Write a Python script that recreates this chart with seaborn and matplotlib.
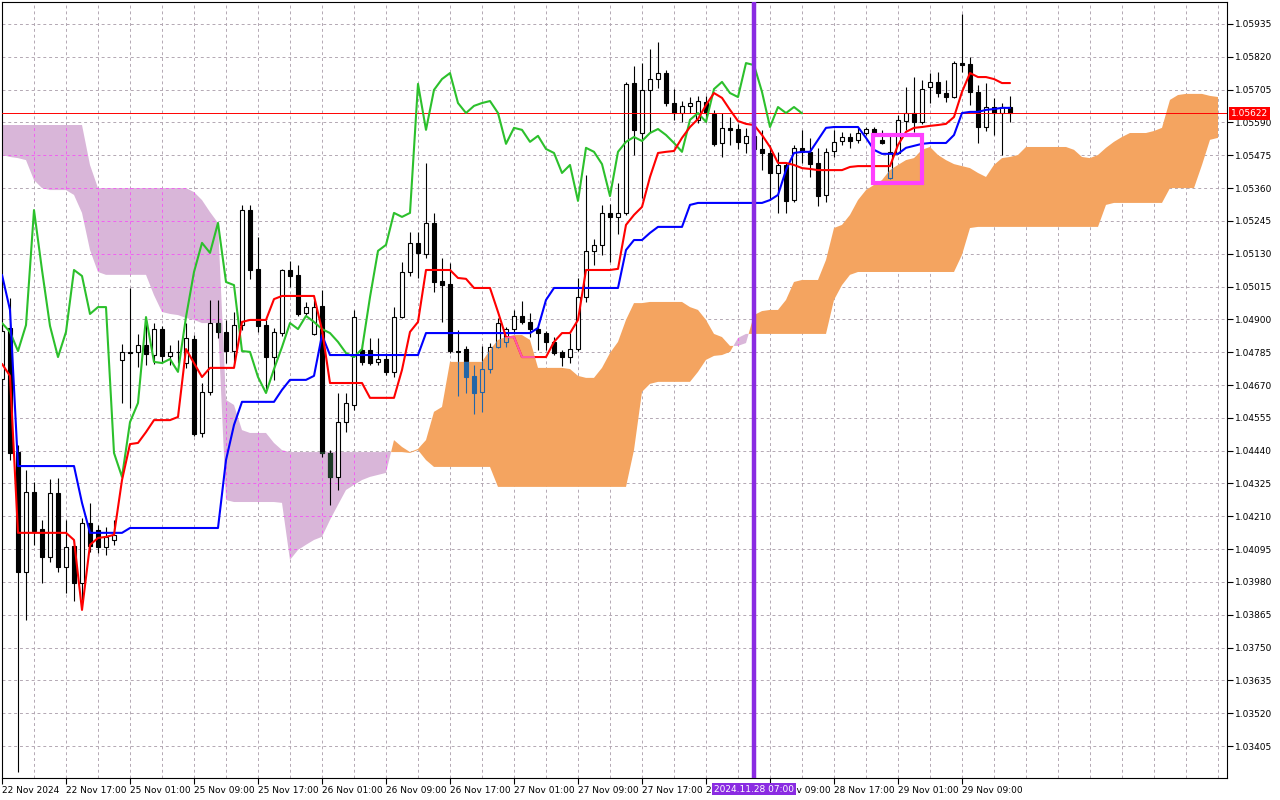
import numpy as np
import pandas as pd
import matplotlib
matplotlib.use("Agg")
import matplotlib.pyplot as plt
import matplotlib.transforms as mtransforms
from matplotlib.patches import Rectangle
from matplotlib.path import Path
import seaborn as sns

# --- EURUSD H1 candles, 22 Nov 2024 09:00 .. 29 Nov 2024 ---
opens = [
    1.04691, 1.04870, 1.04435, 1.04015, 1.04295, 1.04166, 1.04068, 1.04292, 1.04032, 1.04106,
    1.03976, 1.04187, 1.04162, 1.04103, 1.04127, 1.04758, 1.04786, 1.04786, 1.04810, 1.04775,
    1.04866, 1.04772, 1.04786, 1.04747, 1.04831, 1.04502, 1.04646, 1.04887, 1.04856, 1.04789,
    1.04880, 1.05283, 1.05077, 1.04880, 1.04768, 1.04852, 1.05073, 1.05056, 1.04922, 1.04849,
    1.04947, 1.04432, 1.04348, 1.04540, 1.04600, 1.04793, 1.04793, 1.04751, 1.04761, 1.04716,
    1.04908, 1.05066, 1.05168, 1.05129, 1.05238, 1.05035, 1.05024, 1.04789, 1.04796, 1.04702,
    1.04646, 1.04726, 1.04803, 1.04821, 1.04866, 1.04912, 1.04891, 1.04866, 1.04852, 1.04821,
    1.04786, 1.04768, 1.04796, 1.04978, 1.05140, 1.05161, 1.05273, 1.05259, 1.05273, 1.05728,
    1.05553, 1.05704, 1.05742, 1.05763, 1.05658, 1.05623, 1.05648, 1.05599, 1.05662, 1.05620,
    1.05518, 1.05571, 1.05567, 1.05518, 1.05543, 1.05497, 1.05483, 1.05413, 1.05441, 1.05318,
    1.05501, 1.05487, 1.05448, 1.05336, 1.05490, 1.05525, 1.05539, 1.05529, 1.05553, 1.05567,
    1.05529, 1.05395, 1.05483, 1.05595, 1.05623, 1.05592, 1.05714, 1.05732, 1.05693, 1.05679,
    1.05798, 1.05795, 1.05697, 1.05574, 1.05644, 1.05623, 1.05644,
]
highs = [
    1.04880, 1.04975, 1.04460, 1.04372, 1.04330, 1.04197, 1.04341, 1.04344, 1.04197, 1.04127,
    1.04204, 1.04257, 1.04180, 1.04173, 1.04197, 1.04814, 1.05010, 1.04849, 1.04898, 1.04887,
    1.04877, 1.04810, 1.04828, 1.04887, 1.04845, 1.04677, 1.04968, 1.04968, 1.04898, 1.04926,
    1.05301, 1.05301, 1.05189, 1.04898, 1.04870, 1.05077, 1.05105, 1.05091, 1.04961, 1.04968,
    1.05003, 1.04442, 1.04642, 1.04642, 1.04933, 1.04814, 1.04835, 1.04835, 1.04782, 1.04943,
    1.05101, 1.05206, 1.05206, 1.05448, 1.05273, 1.05115, 1.05098, 1.04863, 1.04807, 1.04740,
    1.04807, 1.04817, 1.04905, 1.04873, 1.04933, 1.04964, 1.04922, 1.04873, 1.04859, 1.04838,
    1.04793, 1.04852, 1.05045, 1.05406, 1.05182, 1.05301, 1.05304, 1.05378, 1.05732, 1.05788,
    1.05798, 1.05847, 1.05872, 1.05774, 1.05707, 1.05665, 1.05679, 1.05683, 1.05683, 1.05634,
    1.05623, 1.05609, 1.05585, 1.05571, 1.05571, 1.05564, 1.05511, 1.05487, 1.05448, 1.05511,
    1.05564, 1.05536, 1.05501, 1.05501, 1.05564, 1.05557, 1.05553, 1.05571, 1.05574, 1.05574,
    1.05564, 1.05546, 1.05616, 1.05714, 1.05749, 1.05739, 1.05763, 1.05767, 1.05739, 1.05805,
    1.05970, 1.05819, 1.05721, 1.05728, 1.05676, 1.05658, 1.05683,
]
lows = [
    1.04670, 1.04407, 1.03314, 1.03847, 1.04110, 1.03976, 1.04050, 1.04015, 1.03941, 1.03913,
    1.03917, 1.04085, 1.04082, 1.04075, 1.04110, 1.04607, 1.04590, 1.04733, 1.04740, 1.04744,
    1.04747, 1.04740, 1.04747, 1.04730, 1.04491, 1.04488, 1.04635, 1.04835, 1.04747, 1.04747,
    1.04863, 1.05042, 1.04856, 1.04656, 1.04688, 1.04842, 1.05013, 1.04912, 1.04915, 1.04845,
    1.04418, 1.04250, 1.04302, 1.04505, 1.04583, 1.04740, 1.04740, 1.04740, 1.04705, 1.04698,
    1.04905, 1.05052, 1.05045, 1.05115, 1.04996, 1.04891, 1.04782, 1.04632, 1.04642, 1.04568,
    1.04576, 1.04712, 1.04800, 1.04803, 1.04852, 1.04884, 1.04838, 1.04793, 1.04793, 1.04775,
    1.04737, 1.04747, 1.04789, 1.04961, 1.05091, 1.05126, 1.05101, 1.05199, 1.05266, 1.05476,
    1.05325, 1.05557, 1.05711, 1.05648, 1.05599, 1.05592, 1.05623, 1.05588, 1.05592, 1.05508,
    1.05469, 1.05511, 1.05497, 1.05483, 1.05476, 1.05423, 1.05318, 1.05273, 1.05273, 1.05311,
    1.05448, 1.05399, 1.05297, 1.05311, 1.05469, 1.05511, 1.05501, 1.05518, 1.05546, 1.05539,
    1.05515, 1.05392, 1.05480, 1.05564, 1.05557, 1.05585, 1.05658, 1.05679, 1.05662, 1.05676,
    1.05767, 1.05651, 1.05518, 1.05560, 1.05546, 1.05476, 1.05592,
]
closes = [
    1.04859, 1.04432, 1.04015, 1.04295, 1.04159, 1.04068, 1.04292, 1.04032, 1.04103, 1.03976,
    1.04187, 1.04106, 1.04103, 1.04138, 1.04145, 1.04786, 1.04782, 1.04810, 1.04779, 1.04866,
    1.04772, 1.04786, 1.04784, 1.04835, 1.04498, 1.04646, 1.04887, 1.04856, 1.04789, 1.04880,
    1.05283, 1.05073, 1.04877, 1.04768, 1.04856, 1.05073, 1.05052, 1.04919, 1.04943, 1.04943,
    1.04432, 1.04348, 1.04540, 1.04607, 1.04908, 1.04751, 1.04747, 1.04761, 1.04716, 1.04908,
    1.05066, 1.05168, 1.05133, 1.05238, 1.05031, 1.05020, 1.04789, 1.04786, 1.04698, 1.04642,
    1.04726, 1.04803, 1.04887, 1.04866, 1.04912, 1.04891, 1.04866, 1.04852, 1.04821, 1.04782,
    1.04768, 1.04796, 1.04978, 1.05140, 1.05161, 1.05273, 1.05259, 1.05273, 1.05725, 1.05564,
    1.05704, 1.05742, 1.05763, 1.05658, 1.05623, 1.05648, 1.05658, 1.05665, 1.05623, 1.05515,
    1.05571, 1.05564, 1.05522, 1.05543, 1.05497, 1.05483, 1.05413, 1.05441, 1.05315, 1.05501,
    1.05487, 1.05444, 1.05332, 1.05487, 1.05522, 1.05539, 1.05525, 1.05553, 1.05567, 1.05546,
    1.05518, 1.05487, 1.05599, 1.05623, 1.05592, 1.05707, 1.05732, 1.05693, 1.05679, 1.05798,
    1.05791, 1.05697, 1.05574, 1.05644, 1.05623, 1.05644, 1.05622,
]

# --- Ichimoku lines ---
tenkan = [
    1.04744, 1.04702, 1.04152, 1.04152, 1.04152, 1.04152, 1.04152, 1.04152, 1.04152, 1.04127,
    1.03882, 1.04110, 1.04134, 1.04138, 1.04145, 1.04337, 1.04463, 1.04467, 1.04505, 1.04547,
    1.04547, 1.04547, 1.04558, 1.04796, 1.04747, 1.04698, 1.04730, 1.04730, 1.04730, 1.04730,
    1.04891, 1.04898, 1.04898, 1.04898, 1.04971, 1.04982, 1.04982, 1.04982, 1.04982, 1.04982,
    1.04863, 1.04677, 1.04677, 1.04677, 1.04677, 1.04677, 1.04625, 1.04625, 1.04625, 1.04625,
    1.04723, 1.04856, 1.04891, 1.05073, 1.05073, 1.05073, 1.05073, 1.05045, 1.05042, 1.05010,
    1.05010, 1.05010, 1.04926, 1.04838, 1.04838, 1.04768, 1.04768, 1.04768, 1.04768, 1.04821,
    1.04852, 1.04852, 1.04898, 1.05073, 1.05073, 1.05073, 1.05073, 1.05077, 1.05231, 1.05266,
    1.05294, 1.05399, 1.05483, 1.05487, 1.05490, 1.05536, 1.05574, 1.05602, 1.05651, 1.05693,
    1.05676, 1.05634, 1.05595, 1.05585, 1.05581, 1.05546, 1.05504, 1.05448, 1.05448, 1.05441,
    1.05430, 1.05427, 1.05423, 1.05423, 1.05423, 1.05423, 1.05434, 1.05437, 1.05437, 1.05437,
    1.05437, 1.05437, 1.05511, 1.05557, 1.05571, 1.05574, 1.05578, 1.05581, 1.05585, 1.05609,
    1.05697, 1.05763, 1.05749, 1.05749, 1.05742, 1.05728, 1.05728,
]
kijun = [
    1.05056, 1.04933, 1.04386, 1.04386, 1.04386, 1.04386, 1.04386, 1.04386, 1.04386, 1.04386,
    1.04257, 1.04152, 1.04152, 1.04152, 1.04152, 1.04152, 1.04169, 1.04169, 1.04169, 1.04169,
    1.04169, 1.04169, 1.04169, 1.04169, 1.04169, 1.04169, 1.04169, 1.04169, 1.04407, 1.04530,
    1.04611, 1.04611, 1.04611, 1.04611, 1.04611, 1.04653, 1.04688, 1.04688, 1.04688, 1.04702,
    1.04845, 1.04775, 1.04775, 1.04775, 1.04775, 1.04775, 1.04775, 1.04775, 1.04775, 1.04775,
    1.04775, 1.04775, 1.04775, 1.04852, 1.04852, 1.04852, 1.04852, 1.04852, 1.04852, 1.04852,
    1.04852, 1.04852, 1.04852, 1.04852, 1.04852, 1.04852, 1.04852, 1.04870, 1.04968, 1.05010,
    1.05010, 1.05010, 1.05010, 1.05010, 1.05010, 1.05010, 1.05010, 1.05010, 1.05143, 1.05178,
    1.05178, 1.05203, 1.05224, 1.05224, 1.05224, 1.05224, 1.05301, 1.05308, 1.05308, 1.05308,
    1.05308, 1.05308, 1.05308, 1.05308, 1.05308, 1.05308, 1.05318, 1.05336, 1.05423, 1.05483,
    1.05487, 1.05487, 1.05529, 1.05571, 1.05574, 1.05574, 1.05574, 1.05574, 1.05536, 1.05494,
    1.05480, 1.05480, 1.05480, 1.05501, 1.05508, 1.05515, 1.05518, 1.05518, 1.05518, 1.05546,
    1.05623, 1.05627, 1.05627, 1.05634, 1.05637, 1.05641, 1.05641,
]
span_a = [
    1.05476, 1.05469, 1.05465, 1.05458, 1.05388, 1.05360, 1.05353, 1.05353, 1.05353, 1.05336,
    1.05273, 1.05143, 1.05066, 1.05056, 1.05056, 1.05056, 1.05056, 1.05056, 1.05056, 1.04985,
    1.04926, 1.04919, 1.04915, 1.04905, 1.04898, 1.04887, 1.04887, 1.04887, 1.04267, 1.04260,
    1.04260, 1.04260, 1.04260, 1.04260, 1.04260, 1.04257, 1.04057, 1.04092, 1.04110, 1.04127,
    1.04138, 1.04197, 1.04250, 1.04302, 1.04320, 1.04337, 1.04348, 1.04355, 1.04362, 1.04477,
    1.04453, 1.04435, 1.04446, 1.04477, 1.04576, 1.04593, 1.04751, 1.04751, 1.04751, 1.04751,
    1.04751, 1.04793, 1.04828, 1.04838, 1.04845, 1.04845, 1.04828, 1.04730, 1.04730, 1.04730,
    1.04730, 1.04726, 1.04702, 1.04695, 1.04695, 1.04730, 1.04782, 1.04821, 1.04898, 1.04957,
    1.04957, 1.04961, 1.04961, 1.04961, 1.04961, 1.04961, 1.04943, 1.04933, 1.04898, 1.04849,
    1.04838, 1.04807, 1.04807, 1.04817, 1.04915, 1.04929, 1.04933, 1.04933, 1.04968, 1.05031,
    1.05038, 1.05038, 1.05038, 1.05108, 1.05220, 1.05231, 1.05266, 1.05318, 1.05353, 1.05371,
    1.05388, 1.05423, 1.05441, 1.05458, 1.05465, 1.05494, 1.05504, 1.05476, 1.05458, 1.05444,
    1.05437, 1.05430, 1.05413, 1.05399, 1.05441, 1.05465, 1.05469, 1.05476, 1.05504, 1.05504,
    1.05504, 1.05504, 1.05504, 1.05504, 1.05494, 1.05469, 1.05465, 1.05476, 1.05501, 1.05522,
    1.05539, 1.05553, 1.05553, 1.05553, 1.05560, 1.05571, 1.05669, 1.05686, 1.05690, 1.05690,
    1.05690, 1.05683, 1.05679,
]
span_b = [
    1.05581, 1.05581, 1.05581, 1.05581, 1.05581, 1.05581, 1.05581, 1.05581, 1.05581, 1.05581,
    1.05581, 1.05441, 1.05360, 1.05360, 1.05360, 1.05360, 1.05360, 1.05360, 1.05360, 1.05360,
    1.05360, 1.05360, 1.05360, 1.05360, 1.05346, 1.05318, 1.05276, 1.05238, 1.04618, 1.04600,
    1.04512, 1.04502, 1.04502, 1.04502, 1.04467, 1.04442, 1.04435, 1.04435, 1.04435, 1.04435,
    1.04435, 1.04435, 1.04435, 1.04435, 1.04435, 1.04435, 1.04435, 1.04435, 1.04435, 1.04435,
    1.04435, 1.04432, 1.04442, 1.04407, 1.04383, 1.04383, 1.04383, 1.04383, 1.04383, 1.04383,
    1.04383, 1.04383, 1.04313, 1.04313, 1.04313, 1.04313, 1.04313, 1.04313, 1.04313, 1.04313,
    1.04313, 1.04313, 1.04313, 1.04313, 1.04313, 1.04313, 1.04313, 1.04313, 1.04313, 1.04442,
    1.04646, 1.04674, 1.04681, 1.04681, 1.04681, 1.04681, 1.04681, 1.04716, 1.04758, 1.04772,
    1.04775, 1.04786, 1.04835, 1.04849, 1.04849, 1.04849, 1.04849, 1.04849, 1.04849, 1.04849,
    1.04849, 1.04849, 1.04849, 1.04849, 1.04968, 1.05020, 1.05056, 1.05066, 1.05066, 1.05066,
    1.05066, 1.05066, 1.05066, 1.05066, 1.05066, 1.05066, 1.05066, 1.05066, 1.05066, 1.05066,
    1.05126, 1.05220, 1.05224, 1.05224, 1.05224, 1.05224, 1.05224, 1.05224, 1.05224, 1.05224,
    1.05224, 1.05224, 1.05224, 1.05224, 1.05224, 1.05224, 1.05224, 1.05224, 1.05301, 1.05308,
    1.05308, 1.05308, 1.05308, 1.05308, 1.05308, 1.05308, 1.05360, 1.05360, 1.05360, 1.05360,
    1.05441, 1.05529, 1.05536,
]

price_ticks = [
    1.05935, 1.05820, 1.05705, 1.05590, 1.05475, 1.05360, 1.05245, 1.05130, 1.05015, 1.04900,
    1.04785, 1.04670, 1.04555, 1.04440, 1.04325, 1.04210, 1.04095, 1.03980, 1.03865, 1.03750,
    1.03635, 1.03520, 1.03405,
]
time_tick_bars = [0, 8, 16, 24, 32, 40, 48, 56, 64, 72, 80, 88, 96, 104, 112, 120]
time_tick_labels = [
    "22 Nov 2024", "22 Nov 17:00", "25 Nov 01:00", "25 Nov 09:00", "25 Nov 17:00",
    "26 Nov 01:00", "26 Nov 09:00", "26 Nov 17:00", "27 Nov 01:00", "27 Nov 09:00",
    "27 Nov 17:00", "28 Nov 01:00", "28 Nov 09:00", "28 Nov 17:00", "29 Nov 01:00",
    "29 Nov 09:00",
]
marker_bar = 94
marker_label = "2024.11.28 07:00"
box_bars = [108.9, 115.0]
box_prices = [1.05378, 1.05546]
CHIKOU_SHIFT = 26

ORANGE = "#f4a460"
LAVENDER = "#d9b6d9"
GRID = "#b3a8b3"
IN_CLOUD = "#2466a8"

sns.set_style("white")
plt.rcParams["font.family"] = ["DejaVu Sans"]

o = np.array(opens)
h = np.array(highs)
l = np.array(lows)
c = np.array(closes)
a = np.array(span_a)
b = np.array(span_b)
bars = np.arange(len(c))
cloud_bars = np.arange(len(a))

fig = plt.figure(figsize=(12.8, 8), dpi=100)
ax = fig.add_axes([2 / 1280, 22 / 800, 1225 / 1280, 776 / 800])
XLIM = (0, 153.125)
YLIM = (1.03293, 1.06012)
ax.set_xlim(*XLIM)
ax.set_ylim(*YLIM)

dash = (0, (3, 3))
grid_cols = np.arange(4, 154, 4)
for v in price_ticks:
    ax.axhline(v, color=GRID, lw=0.7, ls=dash, zorder=0)
for xb in grid_cols:
    ax.axvline(xb, color=GRID, lw=0.7, ls=dash, zorder=0)

# bearish kumo (span B above span A)
bear = ax.fill_between(cloud_bars, a, b, where=a < b, interpolate=True,
                       color=LAVENDER, lw=0, zorder=1)
bear_clip = Path.make_compound_path(*bear.get_paths())
for v in price_ticks:
    ln = ax.axhline(v, color="#f060f0", lw=0.7, ls=dash, zorder=1.2)
    ln.set_clip_path(bear_clip, ax.transData)
for xb in grid_cols:
    ln = ax.axvline(xb, color="#f060f0", lw=0.7, ls=dash, zorder=1.2)
    ln.set_clip_path(bear_clip, ax.transData)

# candles
up = c >= o
body_low = np.minimum(o, c)
body_top = np.maximum(o, c)
body_h = np.maximum(body_top - body_low, 0.00003)
ax.vlines(bars, body_top, h, color="black", lw=0.8, zorder=2)
ax.vlines(bars, l, body_low, color="black", lw=0.8, zorder=2)
ax.bar(bars, body_h, bottom=body_low, width=0.62,
       color=np.where(up, "white", "black"), edgecolor="black", linewidth=0.8, zorder=3)
dark = ax.bar(bars[~up], body_h[~up], bottom=body_low[~up], width=0.62,
              color="#1d3b27", edgecolor="#1d3b27", linewidth=0.8, zorder=3.5)
for p in dark:
    p.set_clip_path(bear_clip, ax.transData)

# bullish kumo (span A above span B), candles inside it show through in blue
bull = ax.fill_between(cloud_bars, a, b, where=a >= b, interpolate=True,
                       color=ORANGE, lw=0, zorder=4)
bull_clip = Path.make_compound_path(*bull.get_paths())
for lo_, hi_ in ((body_top, h), (l, body_low)):
    w = ax.vlines(bars, lo_, hi_, color=IN_CLOUD, lw=0.8, zorder=5)
    w.set_clip_path(bull_clip, ax.transData)
blue = ax.bar(bars, body_h, bottom=body_low, width=0.62,
              color=np.where(up, "none", IN_CLOUD), edgecolor=IN_CLOUD, linewidth=0.8, zorder=5.5)
for p in blue:
    p.set_clip_path(bull_clip, ax.transData)

ax.axhline(c[-1], color="#ff0000", lw=0.7, zorder=6)

# tenkan / kijun / chikou
ind = pd.DataFrame({"bar": bars, "tenkan": tenkan, "kijun": kijun})
chik = pd.DataFrame({"bar": bars[:-CHIKOU_SHIFT], "chikou": c[CHIKOU_SHIFT:]})
sns.lineplot(data=chik, x="bar", y="chikou", color="#2cc02c", linewidth=1.5,
             estimator=None, ax=ax, zorder=7)
sns.lineplot(data=ind, x="bar", y="kijun", color="#0000ff", linewidth=1.5,
             estimator=None, ax=ax, zorder=7)
sns.lineplot(data=ind, x="bar", y="tenkan", color="#ff0000", linewidth=1.5,
             estimator=None, ax=ax, zorder=7)
pink = ax.plot(bars, tenkan, color="#ff5aa5", lw=1.5, zorder=7.5)[0]
pink.set_clip_path(bull_clip, ax.transData)

ax.axvline(marker_bar, color="#8a2be2", lw=3.2, zorder=9)
ax.add_patch(Rectangle((box_bars[0], box_prices[0]), box_bars[1] - box_bars[0],
                       box_prices[1] - box_prices[0], fill=False,
                       edgecolor="#ff40ff", lw=3, zorder=9))

ax.set_xlabel("")
ax.set_ylabel("")
ax.set_xlim(*XLIM)
ax.set_ylim(*YLIM)

ax.yaxis.tick_right()
ax.set_yticks(price_ticks)
ax.set_yticklabels([f"{v:.5f}" for v in price_ticks])
ax.tick_params(axis="y", direction="out", length=4, width=0.8, pad=1.5,
               labelsize=6.5, colors="black", right=True, left=False)
ax.set_xticks(time_tick_bars)
ax.set_xticklabels(time_tick_labels, ha="left")
ax.tick_params(axis="x", direction="out", length=4, width=0.8, pad=1.5,
               labelsize=6.5, colors="black", bottom=True)
for s in ax.spines.values():
    s.set_visible(True)
    s.set_color("black")
    s.set_linewidth(0.8)

tr_y = mtransforms.blended_transform_factory(ax.transAxes, ax.transData)
ax.text(1.0035, c[-1], f"{c[-1]:.5f}", transform=tr_y, ha="left", va="center",
        color="white", fontsize=6.5, zorder=10, clip_on=False,
        bbox=dict(boxstyle="square,pad=0.2", fc="#ff0000", ec="none"))
tr_x = mtransforms.blended_transform_factory(ax.transData, ax.transAxes)
ax.text(marker_bar, -0.0142, marker_label, transform=tr_x, ha="center", va="center",
        color="white", fontsize=6.5, zorder=10, clip_on=False,
        bbox=dict(boxstyle="square,pad=0.2", fc="#8a2be2", ec="none"))

fig.savefig("out.png", dpi=100, facecolor="white")
